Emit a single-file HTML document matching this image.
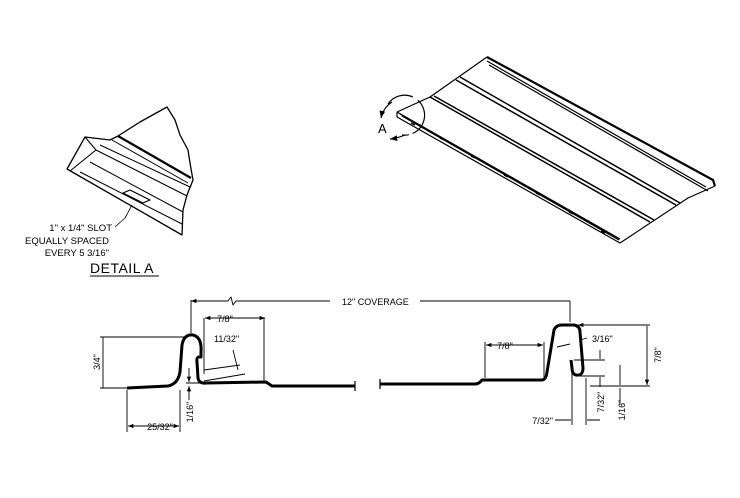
<!DOCTYPE html>
<html><head><style>html,body{margin:0;padding:0;background:#fff}svg{display:block}text{font-family:"Liberation Sans",sans-serif;fill:#000}</style></head>
<body>
<svg width="740" height="498" viewBox="0 0 740 498" xmlns="http://www.w3.org/2000/svg">
<defs><marker id="ar" viewBox="0 0 10 10" refX="10" refY="5" markerWidth="6" markerHeight="6" orient="auto-start-reverse"><path d="M0,1 L10,5 L0,9z" fill="#000"/></marker></defs>
<g fill="none" stroke="#000" stroke-linejoin="round">
<!-- Detail A -->
<path d="M67,169 L85,137 L110,140 L118,136 L140,122 L167,107 L175,120 L180,135 L188,150 L190,163 L193,180 L187,195 L183,210 L182,235 Z" stroke-width="1.3" fill="#fff"/>
<path d="M85,137 L96,150 L70,171" stroke-width="1.1"/>
<path d="M96,150 L187,196" stroke-width="1.1"/>
<path d="M100,145 L190,187" stroke-width="1"/>
<path d="M118,136 L191,178" stroke-width="2.2"/>
<path d="M112,140 L188,183" stroke-width="1"/>
<path d="M90,162 L183,212" stroke-width="1"/>
<path d="M80,172 L182,224" stroke-width="1"/>
<path d="M123,193 L130,190 L150,200 L143,203 Z" stroke-width="1.2"/>
<path d="M132,205 L125,218 L115,227" stroke-width="0.8"/>
<!-- Top right panel -->
<path d="M397,112 L430,97 L487,57" stroke-width="1.2"/>
<path d="M487,57 L713,180 L715,186" stroke-width="2.2"/>
<path d="M715,186 L688,198 L620,243" stroke-width="1.2"/>
<path d="M397,112 L620,239 M397,117 L620,243 M397,112 L397,117 M400,114 L618,238 M402,116 L619,240" stroke-width="1.2"/>
<path d="M430,97 L650,222 M434,96 L654,220" stroke-width="1.5"/>
<path d="M460,77 L680,203 M456,80 L676,205" stroke-width="1.5"/>
<path d="M487,61 L706,187 M489,65 L708,191" stroke-width="1.2"/>
<g stroke-width="1.5"><path d="M411,123 l4,2 M440,138 l4,2 M471,156 l4,2 M504,175 l4,2 M536,193 l4,2 M569,212 l4,2 M601,231 l4,2"/></g>
<path d="M388,104 A20,20 0 1 1 402,135" stroke-width="1.2" stroke-dasharray="28 6 40 4"/>
<path d="M392,102 Q383,108 381,118" stroke-width="1.2" marker-end="url(#ar)"/>
<path d="M405,135 Q398,138 390,139" stroke-width="1.2" marker-end="url(#ar)"/>
<!-- left profile -->
<path d="M127,388 L168,386 Q178,384 180,372 L182,345 Q184,334 193,335 Q202,337 201,352 L201,357 Q196,356 197,362 L198,378 Q199,384 206,383 L266,382 L272,386 L355,386" stroke-width="3"/>
<path d="M355,381 L355,391" stroke-width="1.2"/>
<!-- right profile -->
<path d="M380,384 L475,384 Q479,384 482,380 L542,380 Q546,380 547,372 L554,330 Q556,325 562,325 L574,325 Q580,326 580,332 L583,368 Q583,376 576,375 Q572,374 572,368 L571,360" stroke-width="3"/>
<path d="M380,379 L380,389" stroke-width="1.2"/>
<!-- dims -->
<g stroke-width="0.9">
<path d="M191,300 L191,333 M570,301 L570,322"/>
<path d="M191,301 L228,301 L231,297 L233,305 L236,301 L330,301 M420,301 L570,301" marker-start="url(#ar)"/>
<path d="M205,318 L265,318" marker-start="url(#ar)" marker-end="url(#ar)"/>
<path d="M204,318 L204,374 M264,318 L264,381"/>
<path d="M100,337 L186,337 M100,388 L127,388 M103,337 L103,388"/>
<path d="M127,390 L127,432 M180,390 L180,432"/>
<path d="M128,426 L179,426" marker-start="url(#ar)" marker-end="url(#ar)"/>
<path d="M186,383 L200,383 M189,368 L189,382" marker-end="url(#ar)"/>
<path d="M189,400 L189,386" marker-end="url(#ar)"/>
<path d="M204,370 L240,365 M204,381 L245,374 M233,350 L238,370"/>
<path d="M486,345 L543,345" marker-start="url(#ar)" marker-end="url(#ar)"/>
<path d="M485,342 L485,378 M544,342 L544,378"/>
<path d="M557,347 L570,344 M580,340 L587,338"/>
<path d="M578,325 L650,325 M590,386 L650,386 M647,326 L647,385" marker-start="url(#ar)" marker-end="url(#ar)"/>
<path d="M574,360 L605,360 M580,376 L605,376 M600,350 L600,359 M600,387 L600,377"/>
<path d="M620,365 L620,385 M606,386 L625,386 M620,405 L620,388"/>
<path d="M572,368 L572,425 M586,378 L586,425 M555,420 L571,420 M600,420 L587,420"/>
</g>
</g>
<g font-size="9.5">
<text x="112" y="231" text-anchor="end">1" x 1/4" SLOT</text>
<text x="109" y="244" text-anchor="end">EQUALLY SPACED</text>
<text x="109" y="256" text-anchor="end">EVERY 5 3/16"</text>
<text x="342" y="305" font-size="9">12" COVERAGE</text>
<text x="225" y="322" font-size="9" text-anchor="middle">7/8"</text>
<text x="214" y="342" font-size="9">11/32"</text>
<text x="160" y="430" font-size="9" text-anchor="middle">25/32"</text>
<text x="505" y="349" font-size="9" text-anchor="middle">7/8"</text>
<text x="592" y="342" font-size="9">3/16"</text>
<text x="553" y="424" font-size="9" text-anchor="end">7/32"</text>
<text transform="translate(100,362) rotate(-90)" font-size="9" text-anchor="middle">3/4"</text>
<text transform="translate(193,412) rotate(-90)" font-size="9" text-anchor="middle">1/16"</text>
<text transform="translate(604,402) rotate(-90)" font-size="9" text-anchor="middle">7/32"</text>
<text transform="translate(625,410) rotate(-90)" font-size="9" text-anchor="middle">1/16"</text>
<text transform="translate(661,355) rotate(-90)" font-size="9" text-anchor="middle">7/8"</text>
<text x="378" y="133" font-size="13">A</text>
<text x="90" y="273" font-size="14" letter-spacing="0.5">DETAIL  A</text>
</g>
<path d="M90,276 L159,276" stroke="#000" stroke-width="1"/>
</svg>
</body></html>
